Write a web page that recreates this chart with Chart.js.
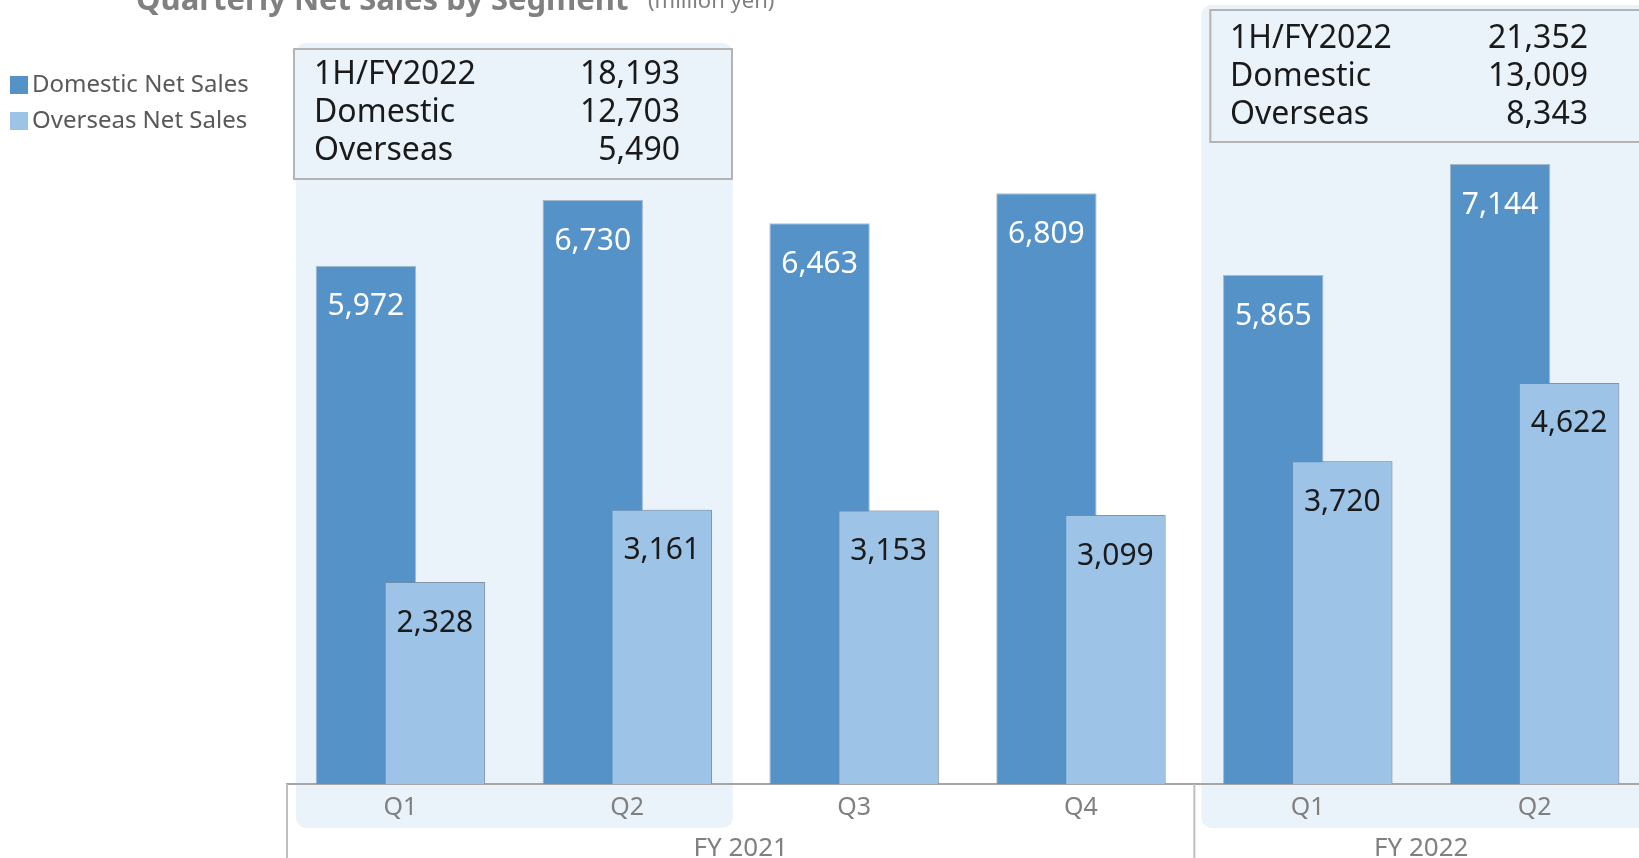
<!DOCTYPE html>
<html>
<head>
<meta charset="utf-8">
<title>Quarterly Net Sales by Segment</title>
<script src="https://cdn.jsdelivr.net/npm/chart.js@4/dist/chart.umd.min.js"></script>
<style>
  html, body { margin: 0; padding: 0; background: #fff; overflow: hidden; }
  #wrap { position: relative; width: 1660px; height: 858px; }
</style>
</head>
<body>
<div id="wrap"><canvas id="salesChart"></canvas></div>
<script>
// quarterly sales, million yen
const quarters = ['Q1', 'Q2', 'Q3', 'Q4', 'Q1', 'Q2'];
const domesticSales = [5972, 6730, 6463, 6809, 5865, 7144];
const overseasSales = [2328, 3161, 3153, 3099, 3720, 4622];

// fiscal year groups (first and last quarter index)
const fiscalYears = ['FY 2021', 'FY 2022'];
const fiscalFirst = [0, 4];
const fiscalLast = [3, 5];

// half-year summary boxes
const summaryRows = ['1H/FY2022', 'Domestic', 'Overseas'];
const halfYear2021 = [18193, 12703, 5490];
const halfYear2022 = [21352, 13009, 8343];

const DOMESTIC = '#5592c8';
const OVERSEAS = '#9dc3e6';
const SHADE = '#eaf2fa';
const GREY_TEXT = '#808080';
const FONT = '"Noto Sans", "Liberation Sans", sans-serif';

const fmt = (v) => v.toLocaleString('en-US');

function roundRect(ctx, x, y, w, h, r) {
  ctx.beginPath();
  ctx.moveTo(x + r, y);
  ctx.arcTo(x + w, y, x + w, y + h, r);
  ctx.arcTo(x + w, y + h, x, y + h, r);
  ctx.arcTo(x, y + h, x, y, r);
  ctx.arcTo(x, y, x + w, y, r);
  ctx.closePath();
}

// shaded half-year columns and the summary boxes behind the bars
const halfYearPanels = {
  id: 'halfYearPanels',
  beforeDraw(chart) {
    const { ctx } = chart;
    const x = chart.scales.x;
    const w = x.getPixelForValue(1) - x.getPixelForValue(0);
    ctx.save();
    ctx.fillStyle = SHADE;
    roundRect(ctx, x.getPixelForValue(0) - w / 2 + 9, 43, w * 2 - 17, 785, 10);
    ctx.fill();
    roundRect(ctx, x.getPixelForValue(4) - w / 2 + 7, 5, w * 2 + 20, 823, 10);
    ctx.fill();

    const boxes = [
      { vals: halfYear2021, left: x.getPixelForValue(0) - w / 2 + 7, top: 49, width: 438, height: 130, lx: 314, vx: 680, y0: 75 },
      { vals: halfYear2022, left: x.getPixelForValue(4) - w / 2 + 16, top: 10, width: 460, height: 132, lx: 1230, vx: 1588, y0: 39 }
    ];
    boxes.forEach((b) => {
      ctx.fillStyle = SHADE;
      ctx.fillRect(b.left, b.top, b.width, b.height);
      ctx.strokeStyle = '#b4b4b4';
      ctx.lineWidth = 2;
      ctx.strokeRect(b.left, b.top, b.width, b.height);
      ctx.fillStyle = '#1a1a1a';
      ctx.font = '32px ' + FONT;
      ctx.textBaseline = 'middle';
      summaryRows.forEach((row, i) => {
        const y = b.y0 + i * 38;
        ctx.textAlign = 'left';
        ctx.fillText(row, b.lx, y);
        ctx.textAlign = 'right';
        ctx.fillText(fmt(b.vals[i]), b.vx, y);
      });
    });

    // title and legend
    ctx.fillStyle = GREY_TEXT;
    ctx.textAlign = 'left';
    ctx.textBaseline = 'alphabetic';
    ctx.font = 'bold 31px ' + FONT;
    ctx.fillText('Quarterly Net Sales by Segment', 136, 10);
    ctx.font = '22px ' + FONT;
    ctx.fillText('(million yen)', 648, 8);

    ctx.font = '24px ' + FONT;
    ctx.textBaseline = 'middle';
    chart.data.datasets.forEach((ds, i) => {
      const y = 85 + i * 36;
      ctx.fillStyle = ds.backgroundColor;
      ctx.fillRect(10, y - 9, 18, 18);
      ctx.fillStyle = '#595959';
      ctx.fillText(ds.label, 32, y);
    });
    ctx.restore();
  },
  afterDatasetsDraw(chart) {
    // overseas bars sit in front of the domestic ones
    chart.getDatasetMeta(1).controller.draw();

    const { ctx } = chart;
    ctx.save();
    ctx.font = '30px ' + FONT;
    ctx.textAlign = 'center';
    ctx.textBaseline = 'middle';
    chart.data.datasets.forEach((ds, i) => {
      ctx.fillStyle = i === 0 ? '#ffffff' : '#1a1a1a';
      chart.getDatasetMeta(i).data.forEach((bar, j) => {
        ctx.fillText(fmt(ds.data[j]), bar.x, bar.y + 41);
      });
    });
    ctx.restore();
  },
  afterDraw(chart) {
    const { ctx } = chart;
    const x = chart.scales.x;
    const w = x.getPixelForValue(1) - x.getPixelForValue(0);
    const bottom = chart.chartArea.bottom;
    ctx.save();
    ctx.strokeStyle = '#bfbfbf';
    ctx.lineWidth = 2;
    ctx.beginPath();
    ctx.moveTo(x.left, bottom);
    ctx.lineTo(x.left, chart.height);
    const split = x.getPixelForValue(fiscalFirst[1]) - w / 2;
    ctx.moveTo(split, bottom);
    ctx.lineTo(split, chart.height);
    ctx.stroke();

    ctx.fillStyle = GREY_TEXT;
    ctx.font = '26px ' + FONT;
    ctx.textAlign = 'center';
    ctx.textBaseline = 'middle';
    fiscalYears.forEach((fy, i) => {
      const from = x.getPixelForValue(fiscalFirst[i]) - w / 2;
      const to = Math.min(x.getPixelForValue(fiscalLast[i]) + w / 2, chart.width);
      ctx.fillText(fy, (from + to) / 2, 849);
    });
    ctx.restore();
  }
};

new Chart(document.getElementById('salesChart'), {
  type: 'bar',
  data: {
    labels: quarters,
    datasets: [
      {
        label: 'Domestic Net Sales',
        data: domesticSales,
        backgroundColor: DOMESTIC,
        borderColor: 'rgba(110, 140, 170, 0.55)',
        borderWidth: 1,
        categoryPercentage: 0.6085,
        barPercentage: 1.455
      },
      {
        label: 'Overseas Net Sales',
        data: overseasSales,
        backgroundColor: OVERSEAS,
        borderColor: 'rgba(120, 140, 160, 0.7)',
        borderWidth: 1,
        categoryPercentage: 0.6085,
        barPercentage: 1.455
      }
    ]
  },
  options: {
    responsive: true,
    maintainAspectRatio: false,
    animation: false,
    layout: { padding: { left: 287, right: 12, top: 0, bottom: 0 } },
    plugins: {
      legend: { display: false },
      tooltip: { enabled: false }
    },
    scales: {
      x: {
        z: 1,
        grid: { display: false },
        border: { display: true, color: '#a6a6a6', width: 2 },
        ticks: {
          color: GREY_TEXT,
          font: { family: FONT, size: 25 },
          padding: 1,
          maxRotation: 0
        },
        afterFit(scale) { scale.height = 74; }
      },
      y: {
        display: false,
        min: 0,
        max: 9035
      }
    }
  },
  plugins: [halfYearPanels]
});
</script>
</body>
</html>
